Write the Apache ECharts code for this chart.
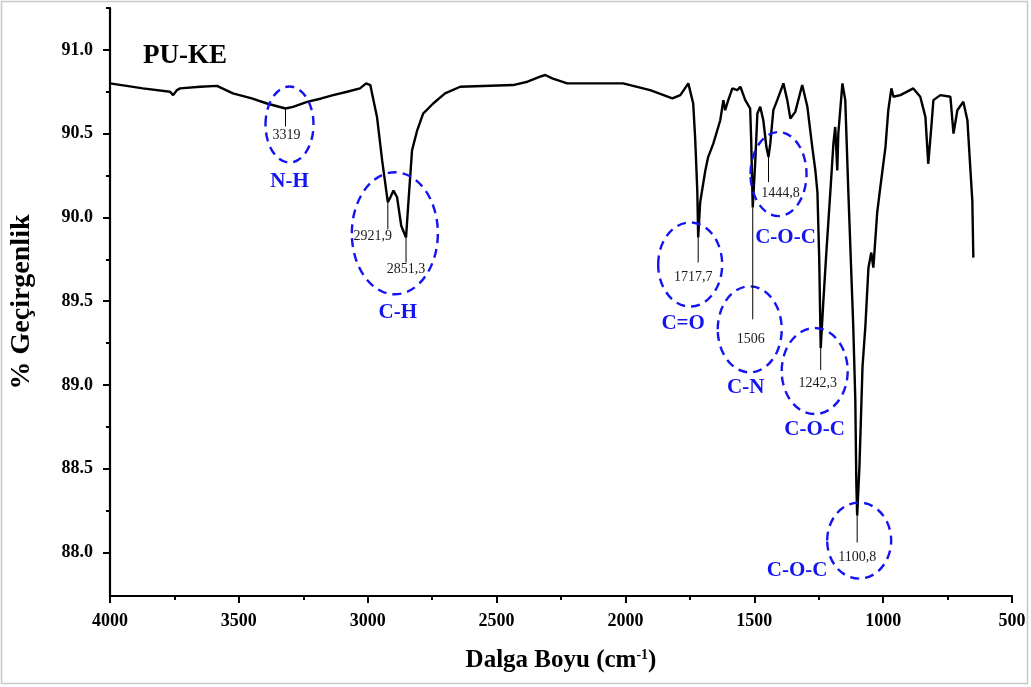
<!DOCTYPE html>
<html>
<head>
<meta charset="utf-8">
<title>PU-KE FTIR</title>
<script src="https://cdn.jsdelivr.net/npm/echarts@6.0.0/dist/echarts.min.js"></script>
<style>
  html, body { margin: 0; padding: 0; background: #fff; }
  #chart { width: 1031px; height: 687px; }
</style>
</head>
<body>
<div id="chart"></div>
<script>
// FTIR spectrum of PU-KE: wavenumber (cm-1) and % transmittance
const wavenumber = [
  4000, 3872, 3767, 3755, 3740, 3728, 3650, 3585, 3523, 3450, 3391, 3319, 3290, 3235, 3180, 3134,
  3080, 3030, 3006, 2990, 2983, 2964, 2944, 2921.9, 2912, 2900, 2886, 2870, 2851.3, 2843, 2828, 2808,
  2785, 2746, 2700, 2641, 2436, 2380, 2331, 2311, 2284, 2226, 2009, 1904, 1818, 1787, 1756, 1737,
  1729, 1721, 1717.7, 1710, 1690, 1679, 1659, 1632, 1620, 1613, 1601, 1585, 1566, 1554, 1535, 1516,
  1512, 1506, 1496, 1488, 1477, 1465, 1453, 1444.8, 1438, 1426, 1411, 1387, 1372, 1360, 1341, 1314,
  1294, 1275, 1263, 1255, 1248, 1242.3, 1232, 1220, 1205, 1193, 1186, 1178, 1174, 1158, 1147, 1135,
  1116, 1108, 1104, 1100.8, 1092, 1080, 1069, 1057, 1046, 1038, 1023, 1011, 991, 980, 968, 960,
  933, 883, 856, 836, 825, 813, 805, 778, 739, 727, 712, 689, 673, 662, 654, 650
];
const transmittance = [
  90.80, 90.77, 90.75, 90.73, 90.76, 90.77, 90.78, 90.785, 90.74, 90.71, 90.68, 90.65, 90.66, 90.69, 90.71, 90.73,
  90.75, 90.77, 90.80, 90.79, 90.78, 90.60, 90.34, 90.09, 90.12, 90.16, 90.12, 89.95, 89.88, 90.07, 90.40, 90.52,
  90.62, 90.68, 90.74, 90.78, 90.79, 90.81, 90.84, 90.85, 90.83, 90.80, 90.80, 90.76, 90.71, 90.73, 90.80, 90.68,
  90.46, 90.15, 89.88, 90.09, 90.28, 90.36, 90.44, 90.58, 90.70, 90.64, 90.70, 90.77, 90.76, 90.78, 90.70, 90.65,
  90.46, 90.06, 90.34, 90.62, 90.66, 90.58, 90.42, 90.36, 90.44, 90.64, 90.70, 90.80, 90.70, 90.59, 90.63, 90.79,
  90.66, 90.42, 90.28, 90.15, 89.75, 89.22, 89.50, 89.80, 90.15, 90.44, 90.54, 90.28, 90.50, 90.80, 90.70, 90.15,
  89.35, 88.91, 88.41, 88.22, 88.51, 89.11, 89.35, 89.70, 89.79, 89.70, 90.03, 90.18, 90.42, 90.64, 90.77, 90.72,
  90.73, 90.77, 90.72, 90.60, 90.32, 90.54, 90.70, 90.73, 90.72, 90.50, 90.64, 90.69, 90.58, 90.30, 90.10, 89.76
];

// Labelled absorption peaks
const peakWavenumber = [3319, 2921.9, 2851.3, 1717.7, 1506, 1444.8, 1242.3, 1100.8];
const peakTransmittance = [90.65, 90.09, 89.88, 89.88, 90.06, 90.36, 89.22, 88.22];
const peakLabels = ['3319', '2921,9', '2851,3', '1717,7', '1506', '1444,8', '1242,3', '1100,8'];

// Band assignments and the peak each one belongs to
const bandLabels = ['N-H', 'C-H', 'C=O', 'C-N', 'C-O-C', 'C-O-C', 'C-O-C'];
const bandPeak = [0, 1, 3, 4, 5, 6, 7];

// Axis tick values
const xTicks = [4000, 3500, 3000, 2500, 2000, 1500, 1000, 500];
const yTicks = [88.0, 88.5, 89.0, 89.5, 90.0, 90.5, 91.0];
const yMinorTicks = [88.25, 88.75, 89.25, 89.75, 90.25, 90.75, 91.25];

const SERIF = '"Liberation Serif", "DejaVu Serif", serif';
const BLUE = '#1414f0';

const spectrum = wavenumber.map((w, i) => [w, transmittance[i]]);

const chart = echarts.init(document.getElementById('chart'), null, { renderer: 'canvas' });

const option = {
  backgroundColor: '#ffffff',
  animation: false,
  grid: { left: 110, right: 19, top: 8, bottom: 91, containLabel: false },
  xAxis: {
    type: 'value',
    inverse: true,
    min: xTicks[xTicks.length - 1],
    max: xTicks[0],
    interval: 500,
    name: 'Dalga Boyu (cm{sup|-1})',
    nameLocation: 'middle',
    nameGap: 52,
    nameTextStyle: {
      fontFamily: SERIF, fontWeight: 'bold', fontSize: 25, color: '#000',
      rich: { sup: { fontFamily: SERIF, fontWeight: 'bold', fontSize: 14, color: '#000', verticalAlign: 'top', padding: [0, 0, 12, 0] } }
    },
    axisLine: { show: true, onZero: false, lineStyle: { color: '#000', width: 2.2 } },
    axisTick: { show: true, inside: false, length: 7, lineStyle: { color: '#000', width: 2 } },
    minorTick: { show: true, splitNumber: 2, length: 4, lineStyle: { color: '#000', width: 2 } },
    axisLabel: {
      margin: 16,
      fontFamily: SERIF, fontWeight: 'bold', fontSize: 18, color: '#000',
      formatter: v => String(v)
    },
    splitLine: { show: false },
    minorSplitLine: { show: false }
  },
  yAxis: [
    {
      type: 'value',
      min: 87.74,
      max: 91.25,
      name: '% Geçirgenlik',
      nameLocation: 'middle',
      nameGap: 74,
      nameRotate: 90,
      nameTextStyle: { fontFamily: SERIF, fontWeight: 'bold', fontSize: 28, color: '#000' },
      axisLine: { show: true, onZero: false, lineStyle: { color: '#000', width: 2.2 } },
      axisTick: { show: true, inside: false, length: 7, customValues: yTicks, lineStyle: { color: '#000', width: 2 } },
      axisLabel: {
        margin: 17,
        customValues: yTicks,
        fontFamily: SERIF, fontWeight: 'bold', fontSize: 18, color: '#000',
        formatter: v => Number(v).toFixed(1)
      },
      splitLine: { show: false }
    },
    {
      // minor ticks on the transmittance axis
      type: 'value',
      min: 87.74,
      max: 91.25,
      position: 'left',
      axisLine: { show: false },
      axisTick: { show: true, inside: false, length: 4, customValues: yMinorTicks, lineStyle: { color: '#000', width: 2 } },
      axisLabel: { show: false },
      splitLine: { show: false }
    }
  ],
  series: [
    {
      type: 'line',
      data: spectrum,
      showSymbol: false,
      symbol: 'none',
      lineStyle: { color: '#000', width: 2.4 },
      xAxisIndex: 0,
      yAxisIndex: 0,
      z: 3
    }
  ]
};

chart.setOption(option);

// Peak markers: short drop line, wavenumber label (pixel offsets from the peak)
const peakLayout = [
  { len: 18, lx: 1, ly: 27 },
  { len: 27, lx: -15, ly: 34 },
  { len: 25, lx: 0, ly: 32 },
  { len: 25, lx: -5, ly: 40 },
  { len: 112, lx: -2, ly: 132 },
  { len: 25, lx: 12, ly: 36 },
  { len: 22, lx: -3, ly: 35 },
  { len: 27, lx: 0, ly: 42 }
];
// Dashed ellipse and band name around each group (pixel offsets from the anchor peak)
const bandLayout = [
  { ex: 4, ey: 16, rx: 24, ry: 38, tx: 4, ty: 73 },
  { ex: 7, ey: 31, rx: 43, ry: 61, tx: 10, ty: 110 },
  { ex: -8, ey: 27, rx: 32, ry: 42, tx: -15, ty: 86 },
  { ex: -3, ey: 122, rx: 32, ry: 43, tx: -7, ty: 180 },
  { ex: 10, ey: 17, rx: 28, ry: 42, tx: 17, ty: 80 },
  { ex: -6, ey: 23, rx: 33, ry: 43, tx: -6, ty: 82 },
  { ex: 2, ey: 25, rx: 32, ry: 38, tx: -60, ty: 55 }
];

const peakPx = peakWavenumber.map((w, i) =>
  chart.convertToPixel({ seriesIndex: 0 }, [w, peakTransmittance[i]])
);

const elements = [];

// outer frame of the figure
elements.push({
  type: 'rect', silent: true, z: 0,
  shape: { x: 1.5, y: 1.5, width: 1026, height: 682 },
  style: { fill: null, stroke: '#c8c8c8', lineWidth: 1.5 }
});

// sample name
elements.push({
  type: 'text', silent: true, z: 10,
  x: 143, y: 56,
  style: { text: 'PU-KE', font: 'bold 27px ' + SERIF, fill: '#000', textAlign: 'left', textVerticalAlign: 'middle' }
});

peakPx.forEach((p, i) => {
  const L = peakLayout[i];
  elements.push({
    type: 'line', silent: true, z: 9,
    shape: { x1: p[0], y1: p[1], x2: p[0], y2: p[1] + L.len },
    style: { stroke: '#000', lineWidth: 1 }
  });
  elements.push({
    type: 'text', silent: true, z: 10,
    x: p[0] + L.lx, y: p[1] + L.ly,
    style: { text: peakLabels[i], font: '14px ' + SERIF, fill: '#1a1a1a', textAlign: 'center', textVerticalAlign: 'middle' }
  });
});

bandLabels.forEach((name, i) => {
  const p = peakPx[bandPeak[i]];
  const B = bandLayout[i];
  elements.push({
    type: 'ellipse', silent: true, z: 8,
    shape: { cx: p[0] + B.ex, cy: p[1] + B.ey, rx: B.rx, ry: B.ry },
    style: { fill: null, stroke: BLUE, lineWidth: 2.4, lineDash: [9, 6] }
  });
  elements.push({
    type: 'text', silent: true, z: 10,
    x: p[0] + B.tx, y: p[1] + B.ty,
    style: { text: name, font: 'bold 21px ' + SERIF, fill: BLUE, textAlign: 'center', textVerticalAlign: 'middle' }
  });
});

chart.setOption({ graphic: { elements: elements } });
</script>
</body>
</html>
